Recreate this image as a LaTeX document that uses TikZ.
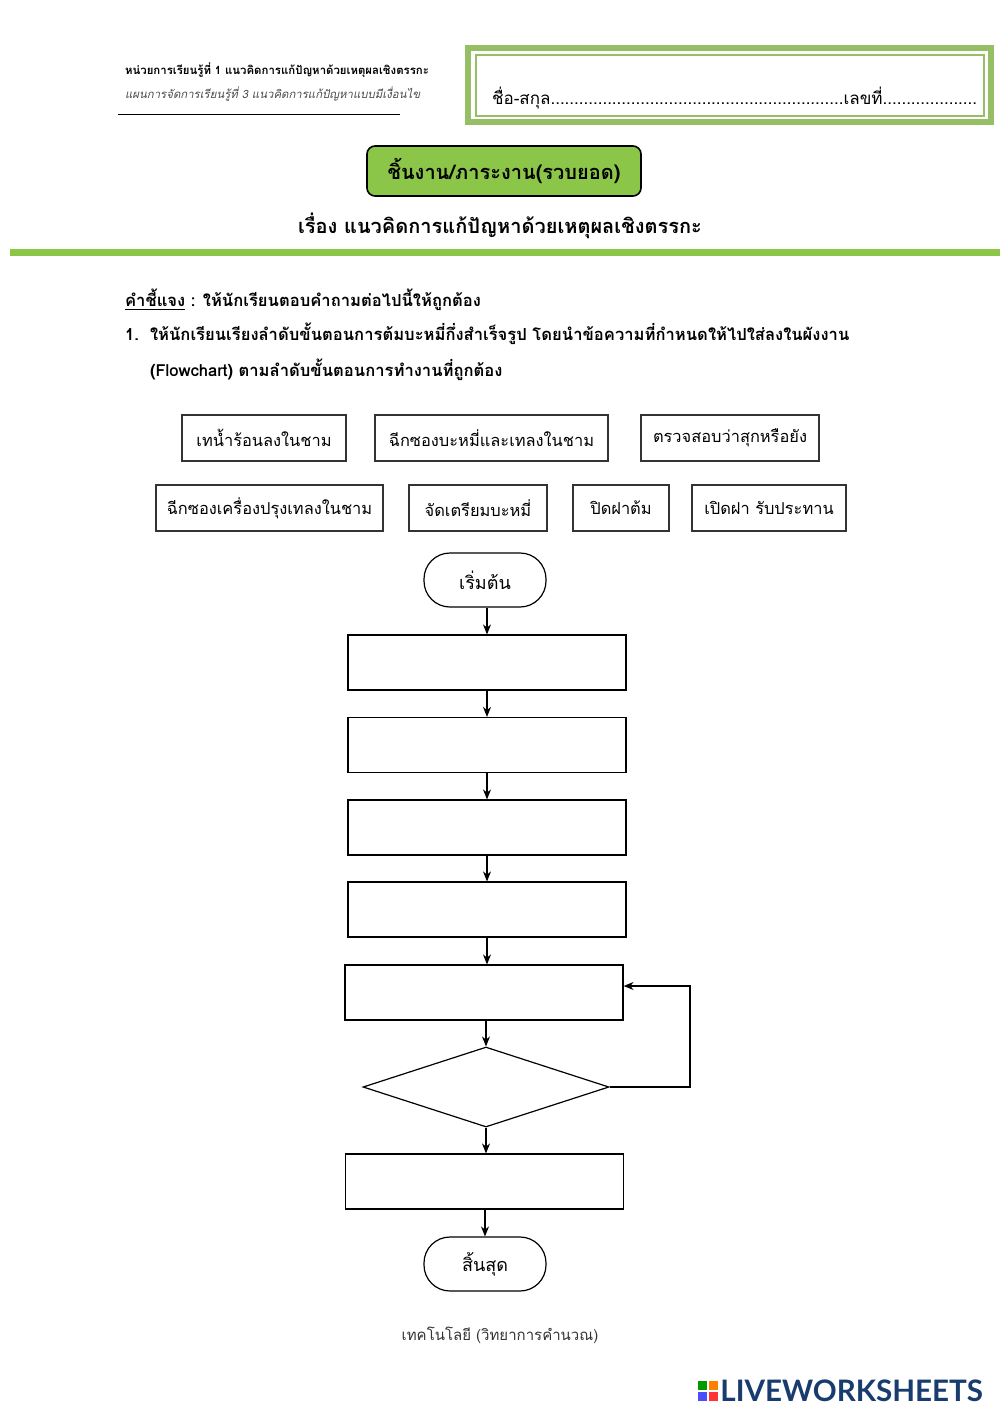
\documentclass[tikz,border=0pt]{standalone}
\usepackage{fontspec}
\setmainfont{Loma}[Script=Thai]
\newfontfamily\logofont{Lato}
\usetikzlibrary{shapes.geometric,arrows.meta}
\definecolor{lgreen}{RGB}{140,198,72}
\definecolor{bgreen}{RGB}{150,190,100}
\definecolor{logoblue}{RGB}{25,60,110}
\begin{document}
\begin{tikzpicture}[x=0.5pt,y=-0.5pt,
  optbox/.style={draw=black!80,line width=0.6pt,minimum height=23pt,inner sep=0pt,font=\fontsize{8.2}{10}\selectfont},
  proc/.style={draw,line width=0.6pt,minimum width=139pt,minimum height=27.5pt,inner sep=0pt},
  term/.style={draw,line width=0.6pt,rounded corners=13pt,minimum width=61pt,minimum height=27pt,inner sep=0pt,font=\fontsize{9}{10}\selectfont},
  arr/.style={-{Stealth[length=5pt,width=4pt]},line width=0.6pt}]
\useasboundingbox (0,0) rectangle (1000,1413);
\fill[white] (0,0) rectangle (1000,1413);
% header
\node[anchor=west,font=\fontsize{5.7}{7}\selectfont\bfseries] (h1) at (118,70) {หน่วยการเรียนรู้ที่ 1 แนวคิดการแก้ปัญหาด้วยเหตุผลเชิงตรรกะ};
\node[anchor=west,font=\fontsize{5.7}{7}\selectfont\itshape,text=black!70] (h2) at (118,94) {แผนการจัดการเรียนรู้ที่ 3 แนวคิดการแก้ปัญหาแบบมีเงื่อนไข};
\draw[line width=0.5pt] (118,115) -- (400,115);
\draw[bgreen,line width=3pt] (468,48) rectangle (991,122);
\draw[bgreen,line width=0.8pt] (476,55) rectangle (984,116);
\node[anchor=west,font=\fontsize{8.5}{10}\selectfont] (name) at (485,98) {ชื่อ-สกุล..............................................................เลขที่....................};
\node[draw,line width=0.8pt,fill=lgreen,rounded corners=4pt,minimum width=137pt,minimum height=25pt,font=\fontsize{10}{12}\selectfont\bfseries] (title) at (504,171) {ชิ้นงาน/ภาระงาน(รวบยอด)};
\node[font=\fontsize{10}{12}\selectfont\bfseries] (sub) at (500,226) {เรื่อง แนวคิดการแก้ปัญหาด้วยเหตุผลเชิงตรรกะ};
\fill[lgreen] (10,249) rectangle (1000,256);
% instructions
\node[anchor=west,font=\fontsize{8.3}{10}\selectfont\bfseries] (i0) at (118,300) {\underline{คำชี้แจง} : ให้นักเรียนตอบคำถามต่อไปนี้ให้ถูกต้อง};
\node[anchor=west,font=\fontsize{8.3}{10}\selectfont\bfseries] (i1) at (118,334) {1.\ \ ให้นักเรียนเรียงลำดับขั้นตอนการต้มบะหมี่กึ่งสำเร็จรูป โดยนำข้อความที่กำหนดให้ไปใส่ลงในผังงาน};
\node[anchor=west,font=\fontsize{8.3}{10}\selectfont\bfseries] (i2) at (143,370) {(Flowchart) ตามลำดับขั้นตอนการทำงานที่ถูกต้อง};
% option boxes
\node[optbox,minimum width=82pt] (o1) at (264,438) {เทน้ำร้อนลงในชาม};
\node[optbox,minimum width=116.5pt] (o2) at (491.5,438) {ฉีกซองบะหมี่และเทลงในชาม};
\node[optbox,minimum width=89pt] (o3) at (730,438) {ตรวจสอบว่าสุกหรือยัง};
\node[optbox,minimum width=113.5pt] (o4) at (269.5,508) {ฉีกซองเครื่องปรุงเทลงในชาม};
\node[optbox,minimum width=69pt] (o5) at (478,508) {จัดเตรียมบะหมี่};
\node[optbox,minimum width=48pt,line width=0.9pt] (o6) at (621,508) {ปิดฝาต้ม};
\node[optbox,minimum width=77pt] (o7) at (769,508) {เปิดฝา รับประทาน};
% flowchart
\node[term] (start) at (485,580) {เริ่มต้น};
\node[proc] (p1) at (487,662.5) {};
\node[proc] (p2) at (487,745) {};
\node[proc] (p3) at (487,827.5) {};
\node[proc] (p4) at (487,909.5) {};
\node[proc] (p5) at (484,992.5) {};
\node[draw,line width=0.6pt,diamond,aspect=3.1,minimum width=123pt,minimum height=40pt,inner sep=0pt] (d) at (486,1087) {};
\node[proc] (p6) at (484.5,1181.5) {};
\node[term] (end) at (485,1264) {สิ้นสุด};
\draw[arr] (start.south -| p1.north) -- (p1.north);
\draw[arr] (p1) -- (p2);
\draw[arr] (p2) -- (p3);
\draw[arr] (p3) -- (p4);
\draw[arr] (p4.south) -- (p4.south |- p5.north);
\draw[arr] (p5.south -| d.north) -- (d.north);
\draw[arr] (d.south) -- (d.south |- p6.north);
\draw[arr] (p6.south -| end.north) -- (end.north);
\coordinate (c1) at (690,1087);
\coordinate (c2) at (690,986);
\draw[arr] (d.east) -- (c1) -- (c2) -- (p5.east |- c2);
% footer
\node[font=\fontsize{7.5}{9}\selectfont,text=black!80] (foot) at (500,1335) {เทคโนโลยี (วิทยาการคำนวณ)};
% logo
\fill[green!60!black] (698,1381) rectangle (707,1390);
\fill[orange] (709,1381) rectangle (718,1390);
\fill[blue!70] (698,1392) rectangle (707,1401);
\fill[red!80] (709,1392) rectangle (718,1401);
\node[anchor=west,font=\logofont\bfseries\fontsize{14.8}{16}\selectfont,text=logoblue,inner sep=0pt] (logo) at (720,1391) {LIVEWORKSHEETS};
\end{tikzpicture}
\end{document}
